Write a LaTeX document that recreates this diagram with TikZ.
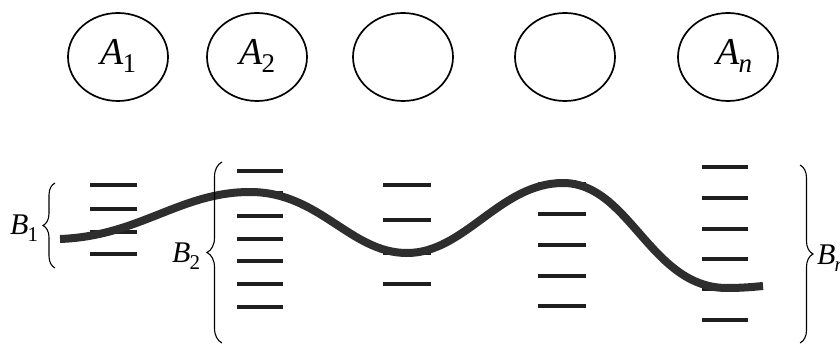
\documentclass[tikz,border=0pt]{standalone}
\usepackage{fontspec}
\setmainfont{Liberation Serif}
\usetikzlibrary{decorations.pathreplacing,shapes.geometric}
\newcommand\Alab[1]{\fontsize{38}{38}\selectfont\textit{A}\kern-1pt\raisebox{-8pt}{\fontsize{27}{27}\selectfont #1}}
\newcommand\Blab[1]{\fontsize{30}{30}\selectfont\textit{B}\kern-1pt\raisebox{-7pt}{\fontsize{21}{21}\selectfont #1}}
\tikzset{
  elli/.style={draw, line width=1.7pt, ellipse, minimum width=100pt, minimum height=88pt, inner sep=0pt},
  level/.style={line width=3.3pt, black!88},
  wave/.style={line width=8pt, black!82},
  brc/.style={decorate, decoration={brace, amplitude=#1}, line width=1.1pt},
  lab/.style={inner sep=0pt}
}
\begin{document}
\begin{tikzpicture}[x=1pt, y=-1pt]
\useasboundingbox (0,0) rectangle (840,347);
% ellipses
\node[elli] (a1) at (118,57) {};
\node[elli] (a2) at (257,57) {};
\node[elli] (a3) at (403,57) {};
\node[elli] (a4) at (565,57) {};
\node[elli] (an) at (728,57) {};
\node[lab, anchor=base west] (ta1) at (100,65) {\Alab{1}};
\node[lab, anchor=base west] (ta2) at (239,65) {\Alab{2}};
\node[lab, anchor=base west] (tan) at (716,65) {\Alab{\textit{n}}};
% level lines
\foreach \y in {185,209,232,254} \draw[level] (90,\y) -- (137,\y);
\foreach \y in {171,193,216,239,261,284,307} \draw[level] (237,\y) -- (283,\y);
\foreach \y in {185,220,253,284} \draw[level] (383,\y) -- (431,\y);
\foreach \y in {184,214,245,276,306} \draw[level] (538,\y) -- (586,\y);
\foreach \y in {167,198,229,259,289,320} \draw[level] (702,\y) -- (748,\y);
% wave
\coordinate (w0) at (60,239);
\coordinate (w1) at (250,192);
\coordinate (w2) at (407,253);
\coordinate (w3) at (563,183);
\coordinate (w4) at (727,288);
\coordinate (w5) at (763,286);
\draw[wave] (w0) .. controls (140,236) and (180,192) .. (w1)
  .. controls (320,192) and (350,253) .. (w2)
  .. controls (465,253) and (500,183) .. (w3)
  .. controls (630,183) and (650,288) .. (w4)
  .. controls (742,288) and (752,287) .. (w5);
% braces
\coordinate (b1t) at (55,183);
\coordinate (b1b) at (55,268);
\coordinate (b2t) at (222,162);
\coordinate (b2b) at (222,343);
\coordinate (bnt) at (800,165);
\coordinate (bnb) at (800,343);
\draw[brc=12pt] (b1b) -- (b1t);
\draw[brc=15pt] (b2b) -- (b2t);
\draw[brc=13pt] (bnt) -- (bnb);
\node[lab, anchor=base west] (tb1) at (10,235) {\Blab{1}};
\node[lab, anchor=base west] (tb2) at (172,262) {\Blab{2}};
\node[lab, anchor=base west] (tbn) at (817,265) {\Blab{\textit{n}}};
\end{tikzpicture}
\end{document}
